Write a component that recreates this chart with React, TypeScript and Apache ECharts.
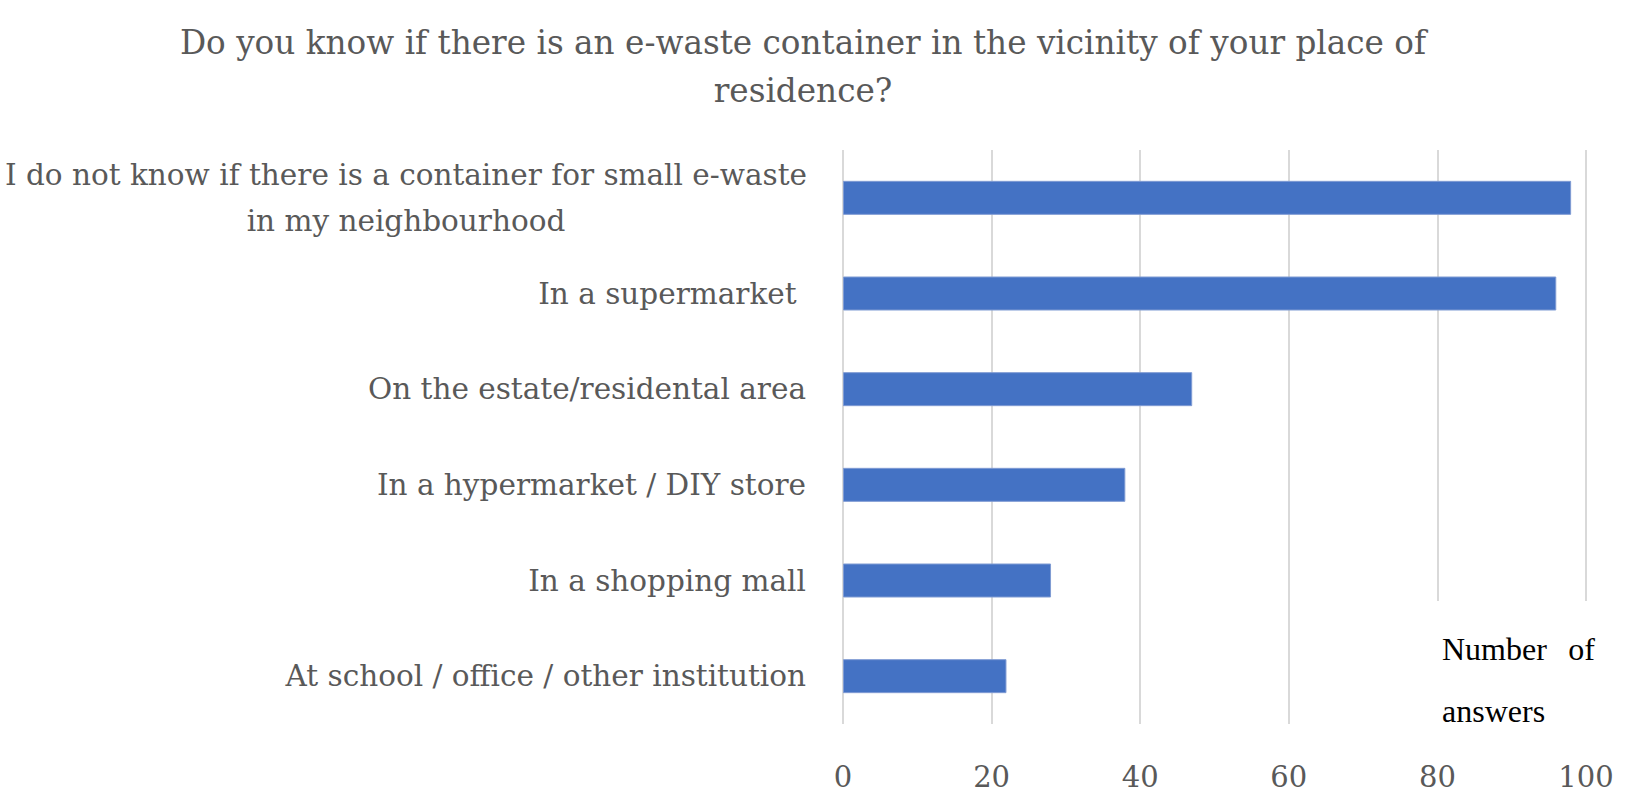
import React, { useEffect, useRef } from "react";
import * as echarts from "echarts";

const titleText =
  "Do you know if there is an e-waste container in the vicinity of your place of\nresidence?";
const categories = [
  "I do not know if there is a container for small e-waste\nin my neighbourhood",
  "In a supermarket ",
  "On the estate/residental area",
  "In a hypermarket / DIY store",
  "In a shopping mall",
  "At school / office / other institution",
];
const values = [98, 96, 47, 38, 28, 22];
const xTicks = { min: 0, max: 100, interval: 20 };
const noteLines = ["Number", "of", "answers"];

const FONT = "'DejaVu Serif', serif";
const NOTE_FONT = "'Liberation Serif', 'Times New Roman', serif";

export default function App() {
  const ref = useRef<HTMLDivElement>(null);
  useEffect(() => {
    if (!ref.current) return;
    const chart = echarts.init(ref.current, null, { renderer: "svg" });
    chart.setOption({
      animation: false,
      backgroundColor: "#ffffff",
      title: {
        text: titleText,
        left: 798,
        top: 14,
        textAlign: "center",
        textStyle: {
          fontFamily: FONT,
          fontSize: 32.7,
          fontWeight: "normal",
          color: "#595959",
          lineHeight: 48,
        },
      },
      grid: {
        left: 843,
        top: 150,
        width: 743,
        height: 574,
        containLabel: false,
        outerBoundsMode: "none",
      },
      xAxis: {
        type: "value",
        min: xTicks.min,
        max: xTicks.max,
        interval: xTicks.interval,
        axisLine: { show: false },
        axisTick: { show: false },
        splitLine: { show: true, lineStyle: { color: "#d9d9d9", width: 2 } },
        axisLabel: {
          margin: 38,
          fontFamily: FONT,
          fontSize: 29,
          color: "#595959",
        },
      },
      yAxis: {
        type: "category",
        inverse: true,
        data: categories,
        axisLine: { show: false },
        axisTick: { show: false },
        axisLabel: {
          margin: 37,
          fontFamily: FONT,
          fontSize: 29.5,
          color: "#595959",
          formatter: (v: string) => {
            const lines = v.split("\n");
            if (lines.length > 1) return lines.map((l) => `{c|${l}}`).join("\n");
            return v;
          },
          rich: {
            c: {
              width: 800,
              align: "center",
              fontFamily: FONT,
              fontSize: 29.5,
              color: "#595959",
              lineHeight: 46,
            },
          },
        },
      },
      series: [
        {
          type: "bar",
          data: values,
          barWidth: 34,
          itemStyle: { color: "#4472C4", borderColor: "#7f9bd3", borderWidth: 1 },
        },
      ],
      graphic: [
        {
          type: "rect",
          z: 100,
          shape: { x: 1420, y: 601, width: 195, height: 140 },
          style: { fill: "#ffffff" },
        },
        {
          type: "text",
          z: 101,
          x: 1442,
          y: 649,
          style: {
            text: noteLines[0],
            font: `32px ${NOTE_FONT}`,
            fill: "#000000",
            textAlign: "left",
            textVerticalAlign: "middle",
          },
        },
        {
          type: "text",
          z: 101,
          x: 1595,
          y: 649,
          style: {
            text: noteLines[1],
            font: `32px ${NOTE_FONT}`,
            fill: "#000000",
            textAlign: "right",
            textVerticalAlign: "middle",
          },
        },
        {
          type: "text",
          z: 101,
          x: 1442,
          y: 711,
          style: {
            text: noteLines[2],
            font: `32px ${NOTE_FONT}`,
            fill: "#000000",
            textAlign: "left",
            textVerticalAlign: "middle",
          },
        },
      ],
    });
    return () => chart.dispose();
  }, []);
  return (
    <div
      ref={ref}
      style={{ position: "absolute", left: 0, top: 0, width: 1631, height: 805 }}
    />
  );
}
